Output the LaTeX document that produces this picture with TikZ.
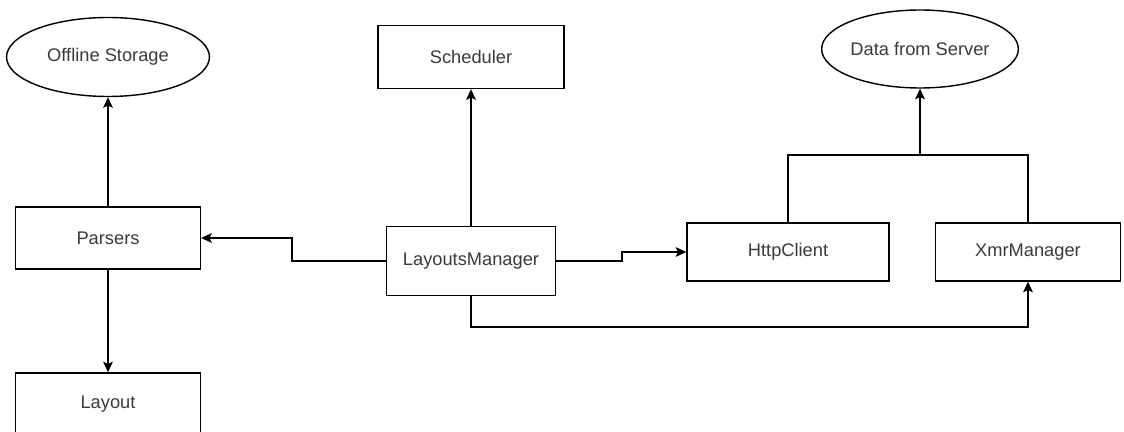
\documentclass[tikz,border=0pt]{standalone}
\usepackage{fontspec}
\setmainfont{Liberation Sans}
\usetikzlibrary{shapes.geometric, arrows.meta}
\definecolor{txtgray}{HTML}{3A3A3A}
\tikzstyle{store} = [ellipse, inner sep=0pt, draw=black, line width=0.8pt, text=txtgray, font=\fontsize{10.4}{12}\selectfont]
\tikzstyle{process} = [rectangle, inner sep=0pt, text centered, draw=black, line width=0.8pt, text=txtgray, font=\fontsize{10.4}{12}\selectfont]
\tikzstyle{arrow} = [line width=0.8pt,-{Stealth[length=6pt,width=5.5pt,inset=1.2pt]}]
\tikzstyle{line} = [line width=0.8pt]

\begin{document}
\begin{tikzpicture}[x=0.02cm, y=-0.02cm]

    \useasboundingbox (0,0) rectangle (1124,432);
    \clip (0,0) rectangle (1124,432);

    \node (offline) [store, minimum width=4.06cm, minimum height=1.58cm] at (108,57) {Offline Storage};
    \node (sched) [process, minimum width=3.72cm, minimum height=1.26cm] at (471,57) {Scheduler};
    \node (data) [store, minimum width=3.78cm, minimum height=1.56cm] at (920,49) {Data from Server};
    \node (parsers) [process, minimum width=3.7cm, minimum height=1.24cm] at (108,238) {Parsers};
    \node (layout) [process, minimum width=3.7cm, minimum height=1.24cm] at (108,404) {Layout};
    \node (lm) [process, minimum width=3.38cm, minimum height=1.38cm] at (471,261) {LayoutsManager};
    \node (http) [process, minimum width=4.04cm, minimum height=1.16cm] at (788,252) {HttpClient};
    \node (xmr) [process, minimum width=3.7cm, minimum height=1.16cm] at (1028,252) {XmrManager};
    \coordinate (join) at (920,155);

    \draw [arrow] (parsers) -- (offline);
    \draw [arrow] (parsers) -- (layout);
    \draw [arrow] (lm) -- (sched);
    \draw [arrow] (lm.west) -- ++(-94,0) |- (parsers.east);
    \draw [arrow] (lm.east) -- ++(66,0) |- (http.west);
    \draw [arrow] (lm.south) -- ++(0,31) -| (xmr.south);
    \draw [line] (http.north) |- (join) -| (xmr.north);
    \draw [arrow] (join) -- (data.south);


\end{tikzpicture}
\end{document}
